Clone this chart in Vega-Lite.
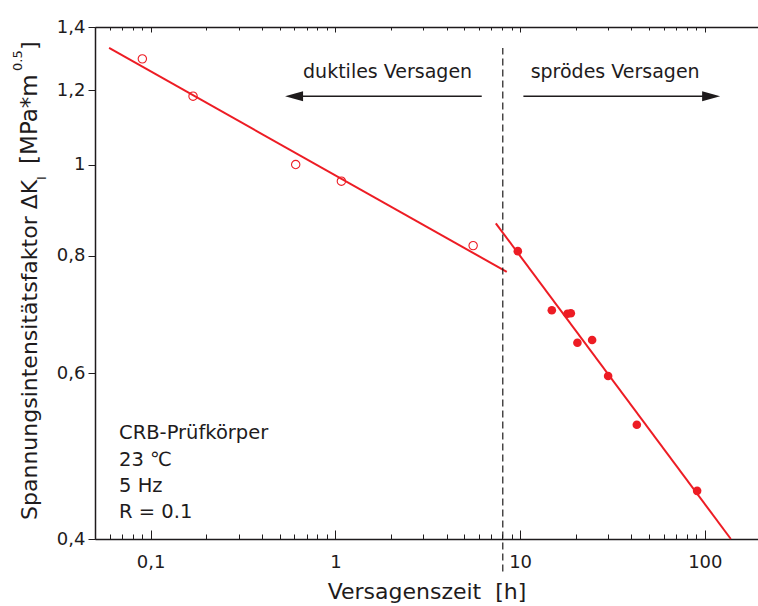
{
  "$schema": "https://vega.github.io/schema/vega-lite/v6.json",
  "width": 663,
  "height": 512,
  "autosize": {"type": "none"},
  "padding": {"left": 95, "top": 27, "right": 0, "bottom": 67},
  "background": "white",
  "config": {
    "font": "DejaVu Sans",
    "view": {"stroke": null},
    "axis": {
      "grid": false,
      "domainColor": "#1e1b1c",
      "domainWidth": 1.5,
      "tickColor": "#1e1b1c",
      "tickWidth": 1,
      "labelColor": "#1e1b1c",
      "labelFont": "DejaVu Sans",
      "labelFontSize": 18,
      "titleColor": "#1e1b1c",
      "titleFont": "DejaVu Sans",
      "titleFontWeight": "normal",
      "labelOverlap": false,
      "labelFlush": false
    }
  },
  "datasets": {
    "versuche": [
      {"versagen": "duktil", "zeit_h": 0.0902, "dK": 1.295},
      {"versagen": "duktil", "zeit_h": 0.1697, "dK": 1.182},
      {"versagen": "duktil", "zeit_h": 0.61, "dK": 1.0},
      {"versagen": "duktil", "zeit_h": 1.078, "dK": 0.96},
      {"versagen": "duktil", "zeit_h": 5.57, "dK": 0.82},
      {"versagen": "spröde", "zeit_h": 9.72, "dK": 0.809},
      {"versagen": "spröde", "zeit_h": 14.85, "dK": 0.7},
      {"versagen": "spröde", "zeit_h": 18.04, "dK": 0.694},
      {"versagen": "spröde", "zeit_h": 18.82, "dK": 0.695},
      {"versagen": "spröde", "zeit_h": 20.43, "dK": 0.6465},
      {"versagen": "spröde", "zeit_h": 24.54, "dK": 0.651},
      {"versagen": "spröde", "zeit_h": 29.96, "dK": 0.596},
      {"versagen": "spröde", "zeit_h": 42.84, "dK": 0.529},
      {"versagen": "spröde", "zeit_h": 90.85, "dK": 0.45}
    ],
    "ausgleich": [
      {"versagen": "duktil", "zeit_h": 0.0596, "dK": 1.33},
      {"versagen": "duktil", "zeit_h": 8.47, "dK": 0.769},
      {"versagen": "spröde", "zeit_h": 7.39, "dK": 0.866},
      {"versagen": "spröde", "zeit_h": 138.3, "dK": 0.4}
    ],
    "grenze": [
      {"zeit_h": 8.06, "dK_unten": 0.3694, "dK_oben": 1.33}
    ],
    "pfeile": [
      {"richtung": "links", "von": 0.5977, "bis": 6.2, "spitze": 0.5977, "dK": 1.182},
      {"richtung": "rechts", "von": 10.42, "bis": 108.2, "spitze": 108.2, "dK": 1.182}
    ],
    "bereiche": [
      {"text": "duktiles Versagen", "zeit_h": 1.918, "dK": 1.237},
      {"text": "sprödes Versagen", "zeit_h": 32.7, "dK": 1.237}
    ],
    "bedingungen": [
      {"text": "CRB-Prüfkörper", "zeit_h": 0.0675, "dK": 0.5106},
      {"text": "23 ℃", "zeit_h": 0.0675, "dK": 0.4787},
      {"text": "5 Hz", "zeit_h": 0.0675, "dK": 0.4485},
      {"text": "R = 0.1", "zeit_h": 0.0675, "dK": 0.4208}
    ]
  },
  "resolve": {"axis": {"x": "independent", "y": "independent"}},
  "layer": [
    {
      "data": {"name": "ausgleich"},
      "mark": {"type": "line", "color": "#ed1c24", "strokeWidth": 2},
      "encoding": {
        "x": {
          "field": "zeit_h", "type": "quantitative",
          "scale": {"type": "log", "domain": [0.05, 194], "nice": false},
          "axis": {
            "orient": "bottom",
            "values": [0.05, 0.06, 0.07, 0.08, 0.09, 0.1, 0.2, 0.3, 0.4, 0.5, 0.6, 0.7, 0.8, 0.9, 1, 2, 3, 4, 5, 6, 7, 8, 9, 10, 20, 30, 40, 50, 60, 70, 80, 90, 100],
            "tickSize": {"condition": {"test": "datum.value == 0.1 || datum.value == 1 || datum.value == 10 || datum.value == 100", "value": -9}, "value": -5},
            "labelPadding": 23,
            "labelBaseline": "top",
            "labelExpr": "datum.value == 0.1 ? '0,1' : (datum.value == 1 || datum.value == 10 || datum.value == 100) ? datum.value + '' : ''",
            "title": "Versagenszeit\u00a0 [h]",
            "titleFontSize": 22,
            "titleBaseline": "alphabetic",
            "titleY": 59
          }
        },
        "y": {
          "field": "dK", "type": "quantitative",
          "scale": {"type": "log", "domain": [0.4, 1.4], "nice": false},
          "axis": {
            "orient": "left",
            "values": [0.4, 0.6, 0.8, 1, 1.2, 1.4],
            "tickSize": 7,
            "labelPadding": 3,
            "labelExpr": "replace(format(datum.value, '.1~f'), '.', ',')",
            "title": null
          }
        },
        "detail": {"field": "versagen"}
      }
    },
    {
      "data": {"name": "versuche"},
      "transform": [{"filter": "datum.versagen == 'duktil'"}],
      "mark": {"type": "point", "shape": "circle", "filled": false, "color": "#ed1c24", "strokeWidth": 1.1, "size": 70, "opacity": 1},
      "encoding": {
        "x": {
          "field": "zeit_h", "type": "quantitative",
          "axis": {
            "orient": "top",
            "values": [0.05, 0.06, 0.07, 0.08, 0.09, 0.1, 0.2, 0.3, 0.4, 0.5, 0.6, 0.7, 0.8, 0.9, 1, 2, 3, 4, 5, 6, 7, 8, 9, 10, 20, 30, 40, 50, 60, 70, 80, 90, 100],
            "tickSize": {"condition": {"test": "datum.value == 0.1 || datum.value == 1 || datum.value == 10 || datum.value == 100", "value": -5}, "value": -3},
            "labels": false,
            "title": null
          }
        },
        "y": {"field": "dK", "type": "quantitative", "axis": null}
      }
    },
    {
      "data": {"name": "versuche"},
      "transform": [{"filter": "datum.versagen == 'spröde'"}],
      "mark": {"type": "circle", "color": "#ed1c24", "size": 74, "opacity": 1},
      "encoding": {
        "x": {"field": "zeit_h", "type": "quantitative", "axis": null},
        "y": {"field": "dK", "type": "quantitative", "axis": null}
      }
    },
    {
      "data": {"name": "grenze"},
      "mark": {"type": "rule", "color": "#1e1b1c", "strokeWidth": 1.2, "strokeDash": [7, 4]},
      "encoding": {
        "x": {"field": "zeit_h", "type": "quantitative", "axis": null},
        "y": {"field": "dK_unten", "type": "quantitative", "axis": null},
        "y2": {"field": "dK_oben"}
      }
    },
    {
      "data": {"name": "pfeile"},
      "mark": {"type": "rule", "color": "#1e1b1c", "strokeWidth": 1.5},
      "encoding": {
        "x": {"field": "von", "type": "quantitative", "axis": null},
        "x2": {"field": "bis"},
        "y": {"field": "dK", "type": "quantitative", "axis": null}
      }
    },
    {
      "data": {"name": "pfeile"},
      "mark": {"type": "point", "filled": true, "color": "#1e1b1c", "size": 324, "opacity": 1},
      "encoding": {
        "x": {"field": "spitze", "type": "quantitative", "axis": null},
        "y": {"field": "dK", "type": "quantitative", "axis": null},
        "shape": {
          "field": "richtung", "type": "nominal",
          "scale": {"domain": ["links", "rechts"], "range": ["M-1,0L1,-0.55L1,0.55Z", "M1,0L-1,-0.55L-1,0.55Z"]},
          "legend": null
        }
      }
    },
    {
      "data": {"name": "bereiche"},
      "mark": {"type": "text", "fontSize": 19, "color": "#1e1b1c", "align": "center", "baseline": "alphabetic"},
      "encoding": {
        "x": {"field": "zeit_h", "type": "quantitative", "axis": null},
        "y": {"field": "dK", "type": "quantitative", "axis": null},
        "text": {"field": "text"}
      }
    },
    {
      "data": {"name": "bedingungen"},
      "mark": {"type": "text", "fontSize": 19.5, "color": "#1e1b1c", "align": "left", "baseline": "alphabetic"},
      "encoding": {
        "x": {"field": "zeit_h", "type": "quantitative", "axis": null},
        "y": {"field": "dK", "type": "quantitative", "axis": null},
        "text": {"field": "text"}
      }
    },
    {
      "data": {"values": [{}]},
      "mark": {"type": "text", "text": "Spannungsintensitätsfaktor ΔK", "fontSize": 22, "color": "#1e1b1c", "angle": 270, "align": "left", "baseline": "alphabetic"},
      "encoding": {
        "x": {"datum": 0.0242, "type": "quantitative", "axis": null},
        "y": {"datum": 0.4191, "type": "quantitative", "axis": null}
      }
    },
    {
      "data": {"values": [{}]},
      "mark": {"type": "text", "text": "I", "fontSize": 13, "color": "#1e1b1c", "angle": 270, "align": "left", "baseline": "alphabetic", "dx": 340, "dy": 9},
      "encoding": {
        "x": {"datum": 0.0242, "type": "quantitative", "axis": null},
        "y": {"datum": 0.4191, "type": "quantitative", "axis": null}
      }
    },
    {
      "data": {"values": [{}]},
      "mark": {"type": "text", "text": "[MPa*m", "fontSize": 23, "color": "#1e1b1c", "angle": 270, "align": "left", "baseline": "alphabetic", "dx": 356},
      "encoding": {
        "x": {"datum": 0.0242, "type": "quantitative", "axis": null},
        "y": {"datum": 0.4191, "type": "quantitative", "axis": null}
      }
    },
    {
      "data": {"values": [{}]},
      "mark": {"type": "text", "text": "0.5", "fontSize": 13, "color": "#1e1b1c", "angle": 270, "align": "left", "baseline": "alphabetic", "dx": 449, "dy": -15},
      "encoding": {
        "x": {"datum": 0.0242, "type": "quantitative", "axis": null},
        "y": {"datum": 0.4191, "type": "quantitative", "axis": null}
      }
    },
    {
      "data": {"values": [{}]},
      "mark": {"type": "text", "text": "]", "fontSize": 22, "color": "#1e1b1c", "angle": 270, "align": "left", "baseline": "alphabetic", "dx": 470},
      "encoding": {
        "x": {"datum": 0.0242, "type": "quantitative", "axis": null},
        "y": {"datum": 0.4191, "type": "quantitative", "axis": null}
      }
    }
  ]
}
